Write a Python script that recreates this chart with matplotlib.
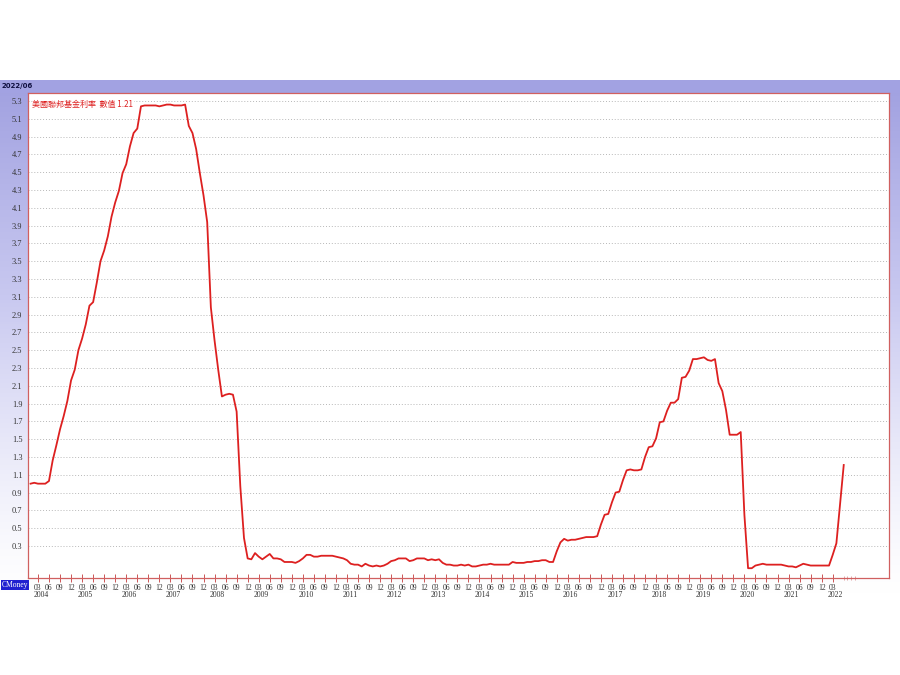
import numpy as np
import matplotlib.pyplot as plt
from matplotlib.colors import LinearSegmentedColormap
from matplotlib.transforms import blended_transform_factory

plt.rcParams['font.family'] = ['Noto Sans CJK TC', 'DejaVu Sans']

# Monthly US federal funds rate, 2004/01 - 2022/06
start_year = 2004
rates = [
    # 2004
    1.00, 1.01, 1.00, 1.00, 1.00, 1.03, 1.26, 1.43, 1.61, 1.76, 1.93, 2.16,
    # 2005
    2.28, 2.50, 2.63, 2.79, 3.00, 3.04, 3.26, 3.50, 3.62, 3.78, 4.00, 4.16,
    # 2006
    4.29, 4.49, 4.59, 4.79, 4.94, 4.99, 5.24, 5.25, 5.25, 5.25, 5.25, 5.24,
    # 2007
    5.25, 5.26, 5.26, 5.25, 5.25, 5.25, 5.26, 5.02, 4.94, 4.76, 4.49, 4.24,
    # 2008
    3.94, 2.98, 2.61, 2.28, 1.98, 2.00, 2.01, 2.00, 1.81, 0.97, 0.39, 0.16,
    # 2009
    0.15, 0.22, 0.18, 0.15, 0.18, 0.21, 0.16, 0.16, 0.15, 0.12, 0.12, 0.12,
    # 2010
    0.11, 0.13, 0.16, 0.20, 0.20, 0.18, 0.18, 0.19, 0.19, 0.19, 0.19, 0.18,
    # 2011
    0.17, 0.16, 0.14, 0.10, 0.09, 0.09, 0.07, 0.10, 0.08, 0.07, 0.08, 0.07,
    # 2012
    0.08, 0.10, 0.13, 0.14, 0.16, 0.16, 0.16, 0.13, 0.14, 0.16, 0.16, 0.16,
    # 2013
    0.14, 0.15, 0.14, 0.15, 0.11, 0.09, 0.09, 0.08, 0.08, 0.09, 0.08, 0.09,
    # 2014
    0.07, 0.07, 0.08, 0.09, 0.09, 0.10, 0.09, 0.09, 0.09, 0.09, 0.09, 0.12,
    # 2015
    0.11, 0.11, 0.11, 0.12, 0.12, 0.13, 0.13, 0.14, 0.14, 0.12, 0.12, 0.24,
    # 2016
    0.34, 0.38, 0.36, 0.37, 0.37, 0.38, 0.39, 0.40, 0.40, 0.40, 0.41, 0.54,
    # 2017
    0.65, 0.66, 0.79, 0.90, 0.91, 1.04, 1.15, 1.16, 1.15, 1.15, 1.16, 1.30,
    # 2018
    1.41, 1.42, 1.51, 1.69, 1.70, 1.82, 1.91, 1.91, 1.95, 2.19, 2.20, 2.27,
    # 2019
    2.40, 2.40, 2.41, 2.42, 2.39, 2.38, 2.40, 2.13, 2.04, 1.83, 1.55, 1.55,
    # 2020
    1.55, 1.58, 0.65, 0.05, 0.05, 0.08, 0.09, 0.10, 0.09, 0.09, 0.09, 0.09,
    # 2021
    0.09, 0.08, 0.07, 0.07, 0.06, 0.08, 0.10, 0.09, 0.08, 0.08, 0.08, 0.08,
    # 2022
    0.08, 0.08, 0.20, 0.33, 0.77, 1.21,
]
y_ticks = [round(0.3 + 0.2 * k, 1) for k in range(26)]
legend_text = "美國聯邦基金利率  數值 1.21"

months = np.arange(len(rates))

fig = plt.figure(figsize=(9, 6.75), dpi=100, facecolor="white")

# panel background: lavender gradient fading to white
bg = fig.add_axes([0, 75 / 675, 1, 520 / 675])
cmap = LinearSegmentedColormap.from_list("bg", ["#ffffff", "#c8c8f0", "#a0a0e0"])
grad = np.linspace(0, 1, 256).reshape(-1, 1) ** 1.3
bg.imshow(grad, aspect="auto", cmap=cmap, origin="lower", extent=[0, 1, 0, 1])
bg.axhspan(1 - 12 / 520, 1, color="#a2a2e2")
bg.set_xlim(0, 1)
bg.set_ylim(0, 1)
bg.axis("off")
bg.text(0.002, 1 - 6 / 520, "2022/06", fontsize=5, fontweight="bold",
        color="#101040", va="center", ha="left", family="DejaVu Sans")
bg.text(0.002, 15 / 520, "CMoney", fontsize=5.5, color="white", va="center",
        ha="left", family="Liberation Serif",
        bbox=dict(boxstyle="square,pad=0.15", fc="#2020d0", ec="none"))

ax = fig.add_axes([28 / 900, 1 - 578 / 675, 861 / 900, 485 / 675])
ax.set_facecolor("white")
ax.plot(months, rates, color="#dd2020", lw=1.3)

ax.set_xlim(-0.7, 233.3)
ax.set_ylim(-0.06, 5.39)

ax.set_yticks(y_ticks)
ax.set_yticklabels([f"{v:.1f}" for v in y_ticks], fontsize=6,
                   family="Liberation Serif", color="#333333")
ax.yaxis.grid(True, linestyle=(0, (1, 2)), color="#b8b8b8", lw=0.7)
ax.tick_params(axis="y", length=0, pad=4)

# quarter ticks: 03 06 09 12 up to the last full quarter, year under the 03
last = len(rates) - 1
xt, xl = [], []
for i in range(last):
    m = i % 12 + 1
    if m % 3 == 0:
        xt.append(i)
        xl.append(f"{m:02d}")
ax.set_xticks(xt)
ax.set_xticklabels(xl, fontsize=5.5, family="Liberation Serif",
                   color="#333333")
ax.tick_params(axis="x", direction="inout", length=6, width=0.7,
               color="#cc5555", pad=1)
ax.set_xticks([last + k for k in range(0, 4)], minor=True)
ax.tick_params(axis="x", which="minor", direction="inout", length=3,
               width=0.6, color="#dd9999")

trans = blended_transform_factory(ax.transData, ax.transAxes)
for i in range(2, len(rates), 12):
    ax.text(i + 0.8, -0.027, str(start_year + i // 12), transform=trans,
            fontsize=5.5, family="Liberation Serif", color="#333333",
            ha="center", va="top")

for s in ax.spines.values():
    s.set_color("#d06060")
    s.set_linewidth(0.9)

ax.text(0.005, 0.985, legend_text, transform=ax.transAxes, fontsize=5.8,
        color="#dd2020", va="top", ha="left",
        bbox=dict(fc="white", ec="none", pad=0.5))

fig.savefig("out.png", dpi=100, facecolor="white")
